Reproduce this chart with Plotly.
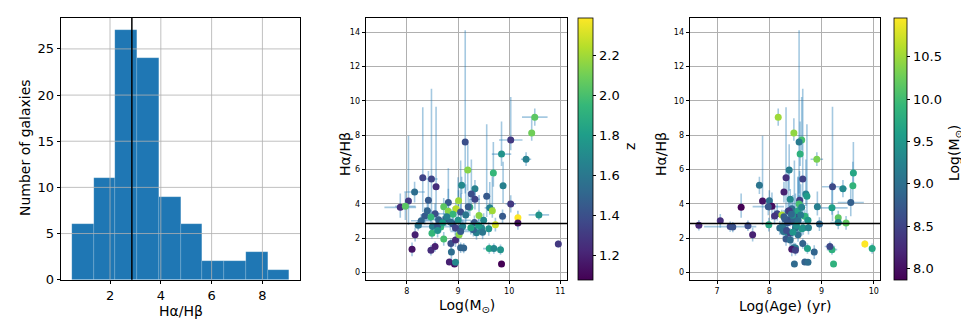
import numpy as np
import plotly.graph_objects as go

# ---------------- data ----------------
hist_edges = [0.50, 1.356, 2.212, 3.068, 3.924, 4.78, 5.636, 6.492, 7.348, 8.204, 9.06]
hist_counts = [6, 11, 27, 24, 9, 6, 2, 2, 3, 1]
case_b = 2.86

mass = [10.50, 10.44, 10.03, 9.14, 9.85, 10.33, 9.19, 9.69, 8.31, 8.48,
        9.07, 9.88, 8.57, 9.33, 8.15, 9.26, 9.56, 8.42, 9.33, 8.03,
        8.81, 10.03, 9.01, 7.87, 7.97, 8.72, 8.81, 8.96, 9.05, 8.55,
        8.35, 8.47, 8.62, 8.76, 9.62, 9.67, 9.23, 9.20, 9.41, 9.87,
        10.58, 10.17, 10.17, 9.73, 9.60, 9.46, 9.36, 9.30, 9.06, 10.96,
        9.61, 9.70, 9.83, 9.85, 9.05, 9.11, 8.10, 8.47, 8.55, 8.86,
        8.87, 8.83, 8.93, 8.95, 8.16, 8.49, 8.72, 8.95, 9.02, 8.22,
        8.28, 8.50, 8.66, 8.90, 8.95, 9.09, 8.60, 9.32, 8.85, 9.00,
        9.15, 8.70, 9.25, 9.05, 8.40, 8.90, 9.40, 8.60, 9.50, 8.78, 9.48]
mass_err = [0.25, 0.06, 0.23, 0.05, 0.19, 0.10, 0.05, 0.05, 0.05, 0.12,
            0.05, 0.05, 0.05, 0.05, 0.20, 0.05, 0.05, 0.05, 0.10, 0.05,
            0.05, 0.10, 0.05, 0.31, 0.20, 0.05, 0.05, 0.05, 0.15, 0.20,
            0.05, 0.05, 0.25, 0.05, 0.10, 0.05, 0.05, 0.05, 0.05, 0.05,
            0.20, 0.05, 0.05, 0.05, 0.05, 0.05, 0.05, 0.20, 0.05, 0.05,
            0.12, 0.10, 0.05, 0.05, 0.05, 0.05, 0.05, 0.05, 0.05, 0.05,
            0.05, 0.05, 0.05, 0.05, 0.05, 0.05, 0.05, 0.05, 0.05, 0.05,
            0.20, 0.35, 0.05, 0.05, 0.05, 0.05, 0.05, 0.05, 0.30, 0.25,
            0.05, 0.05, 0.05, 0.20, 0.05, 0.05, 0.05, 0.05, 0.05, 0.05, 0.05]
redshift = [2.05, 2.10, 1.30, 1.40, 1.75, 1.65, 2.15, 1.95, 1.35, 1.35,
            1.70, 1.65, 1.25, 1.65, 1.55, 1.40, 1.45, 1.45, 1.35, 1.30,
            1.45, 1.30, 2.20, 1.25, 2.05, 2.05, 2.15, 2.25, 1.40, 1.40,
            1.45, 1.95, 1.50, 1.45, 1.65, 2.20, 1.90, 1.45, 2.15, 1.45,
            1.75, 2.39, 1.15, 2.30, 1.75, 1.70, 1.65, 1.50, 1.55, 1.30,
            1.85, 1.70, 1.75, 1.08, 1.50, 1.50, 1.15, 1.25, 1.20, 1.40,
            1.55, 1.20, 1.15, 1.70, 1.20, 1.95, 2.00, 1.25, 2.15, 1.60,
            1.50, 1.65, 1.95, 1.40, 1.35, 1.65, 1.45, 1.45, 1.55, 1.75,
            1.60, 1.80, 1.85, 1.45, 1.50, 1.95, 1.80, 1.75, 1.70, 1.65, 1.60]
log_age = [8.17, 8.47, 8.62, 8.57, 8.59, 8.91, 8.38, 9.61, 8.32, 8.64,
           7.81, 9.60, 9.21, 9.41, 8.28, 8.70, 8.72, 8.58, 8.40, 7.87,
           9.56, 8.57, 8.00, 7.46, 8.05, 7.98, 8.36, 8.43, 8.48, 8.15,
           8.10, 8.52, 8.40, 8.30, 9.20, 8.55, 8.62, 8.92, 8.45, 8.68,
           8.24, 9.32, 9.47, 7.99, 8.62, 8.65, 8.35, 8.30, 8.50, 9.83,
           8.73, 9.97, 9.20, 9.23, 8.47, 8.50, 8.43, 8.50, 9.16, 8.64,
           8.86, 8.68, 8.48, 8.74, 7.68, 8.40, 8.32, 8.40, 8.55, 6.65,
           7.06, 7.25, 7.30, 8.96, 8.20, 8.25, 7.59, 9.32, 8.45, 8.55,
           8.60, 8.35, 8.75, 8.27, 8.38, 8.42, 8.52, 8.33, 8.74, 8.28, 8.45]
age_err = [0.05, 0.05, 0.05, 0.03, 0.04, 0.12, 0.04, 0.06, 0.04, 0.04,
           0.04, 0.04, 0.20, 0.08, 0.05, 0.04, 0.04, 0.04, 0.04, 0.04,
           0.25, 0.05, 0.05, 0.04, 0.05, 0.30, 0.05, 0.05, 0.05, 0.05,
           0.05, 0.05, 0.05, 0.05, 0.30, 0.05, 0.05, 0.06, 0.05, 0.05,
           0.05, 0.05, 0.05, 0.05, 0.05, 0.05, 0.05, 0.05, 0.05, 0.05,
           0.05, 0.05, 0.10, 0.05, 0.05, 0.05, 0.05, 0.05, 0.10, 0.05,
           0.05, 0.05, 0.05, 0.05, 0.05, 0.05, 0.05, 0.05, 0.05, 0.05,
           0.05, 0.50, 0.05, 0.05, 0.05, 0.05, 0.05, 0.15, 0.10, 0.05,
           0.05, 0.05, 0.05, 0.05, 0.05, 0.05, 0.05, 0.05, 0.05, 0.05, 0.05]
ratio = [9.05, 8.13, 7.72, 7.60, 6.90, 6.60, 5.97, 5.80, 5.53, 5.45,
         5.08, 5.06, 5.00, 4.89, 4.69, 4.58, 4.44, 4.22, 4.27, 4.17,
         4.08, 4.00, 4.19, 3.80, 3.86, 3.84, 3.57, 3.72, 3.53, 3.43,
         3.30, 3.24, 3.08, 3.12, 3.77, 3.60, 3.80, 3.83, 3.32, 3.28,
         3.36, 3.20, 2.89, 2.79, 2.55, 2.60, 2.32, 2.50, 2.60, 1.67,
         1.40, 1.40, 1.34, 0.50, 1.45, 1.43, 1.36, 1.30, 1.52, 1.69,
         1.20, 0.62, 0.50, 0.60, 2.21, 2.29, 1.96, 1.90, 2.20, 2.76,
         3.02, 2.68, 2.65, 2.83, 2.60, 2.70, 2.73, 2.92, 2.95, 3.05,
         3.35, 2.90, 2.62, 2.40, 3.60, 3.40, 2.75, 2.45, 3.05, 3.25, 2.35]
ratio_err_lo = [0.5, 0.45, 0.6, 3.0, 0.7, 0.4, 1.2, 0.8, 2.0, 2.0,
                0.5, 1.0, 2.0, 0.5, 0.6, 0.7, 1.2, 1.0, 0.6, 1.4,
                0.8, 0.5, 0.6, 0.6, 0.8, 0.5, 0.5, 0.5, 0.5, 0.4,
                0.5, 0.4, 0.4, 0.4, 0.4, 0.4, 0.5, 0.5, 0.4, 0.4,
                0.3, 0.4, 0.4, 0.4, 0.4, 0.4, 0.4, 0.4, 0.4, 0.2,
                0.3, 0.3, 0.3, 0.1, 0.3, 0.3, 0.4, 0.3, 0.3, 0.3,
                0.4, 0.1, 0.1, 0.1, 0.4, 0.3, 0.4, 0.4, 0.4, 0.3,
                0.4, 0.3, 0.3, 0.4, 0.4, 0.4, 0.3, 0.4, 0.5, 0.5,
                0.5, 0.4, 0.4, 0.4, 0.5, 0.4, 0.4, 0.4, 0.4, 0.4, 0.4]
ratio_err_hi = [0.5, 0.85, 2.5, 6.5, 1.9, 0.4, 1.5, 1.8, 4.1, 5.25,
                0.5, 1.4, 4.65, 0.5, 0.6, 2.0, 4.2, 1.7, 0.6, 3.8,
                0.8, 0.5, 0.6, 0.8, 0.8, 0.5, 2.5, 0.5, 3.0, 0.6,
                0.5, 0.4, 0.4, 0.4, 1.5, 2.0, 0.5, 0.9, 1.2, 0.4,
                0.3, 0.4, 0.4, 0.4, 0.4, 0.4, 0.4, 0.4, 2.0, 0.2,
                0.3, 0.3, 0.3, 0.1, 0.3, 0.3, 0.4, 0.3, 0.3, 0.3,
                0.4, 0.1, 0.1, 0.1, 0.4, 0.3, 0.4, 0.4, 0.4, 0.3,
                0.4, 0.3, 0.3, 0.4, 0.4, 0.4, 0.3, 0.4, 0.5, 2.5,
                1.8, 0.4, 0.4, 0.4, 0.5, 0.4, 0.4, 0.4, 0.4, 0.4, 0.4]

z_ticks = [1.2, 1.4, 1.6, 1.8, 2.0, 2.2]
m_ticks = [8.0, 8.5, 9.0, 9.5, 10.0, 10.5]

# ---------------- figure geometry (pixels) ----------------
W, H = 969, 323
def px(x):
    return x / W
def py(y):
    return 1 - y / H

FONT = "DejaVu Sans"
BLUE = "#1f77b4"
ERR = "rgba(31,119,180,0.4)"

edges = np.array(hist_edges)
centers = (edges[:-1] + edges[1:]) / 2
widths = edges[1:] - edges[:-1]

fig = go.Figure()
fig.add_trace(go.Bar(x=centers, y=hist_counts, width=widths,
                     marker=dict(color=BLUE, line=dict(width=0.4, color="rgba(255,255,255,0.35)")),
                     xaxis="x", yaxis="y", showlegend=False))

def err_trace(x, xe, xa, ya):
    return go.Scatter(x=x, y=ratio, mode="markers",
                      marker=dict(size=7, opacity=0),
                      error_x=dict(type="data", array=xe, color=ERR, thickness=1.6, width=0),
                      error_y=dict(type="data", symmetric=False, array=ratio_err_hi,
                                   arrayminus=ratio_err_lo, color=ERR, thickness=1.6, width=0),
                      xaxis=xa, yaxis=ya, showlegend=False, hoverinfo="skip")

def cbar(x0, thick, ticks):
    return dict(x=px(x0), xanchor="left", xpad=0, ypad=0,
                y=py(271.7), yanchor="bottom", len=(271.7 - 10) / H, lenmode="fraction",
                thickness=thick, outlinewidth=0.8, outlinecolor="black",
                tickvals=ticks, ticktext=[f"{t:.1f}" for t in ticks],
                ticks="outside", ticklen=3.5, tickwidth=0.8, tickcolor="black",
                tickfont=dict(family=FONT, size=13, color="black"))

fig.add_trace(err_trace(mass, mass_err, "x2", "y2"))
fig.add_trace(go.Scatter(x=mass, y=ratio, mode="markers",
                         marker=dict(size=7, color=redshift, colorscale="Viridis",
                                     showscale=True, colorbar=cbar(570, 15, z_ticks)),
                         xaxis="x2", yaxis="y2", showlegend=False))
fig.add_trace(err_trace(log_age, age_err, "x3", "y3"))
fig.add_trace(go.Scatter(x=log_age, y=ratio, mode="markers",
                         marker=dict(size=7, color=mass, colorscale="Viridis",
                                     showscale=True, colorbar=cbar(886, 13, m_ticks)),
                         xaxis="x3", yaxis="y3", showlegend=False))

ydom = [py(271.7), py(10)]
def axis(dom, rng, ticks, fs, grid=True, anchor=None):
    d = dict(domain=dom, range=rng, tickvals=ticks, showline=True, mirror=True,
             linecolor="black", linewidth=0.8, ticks="outside", ticklen=3.5, tickwidth=0.8,
             tickcolor="black", showgrid=grid, gridcolor="#b0b0b0", gridwidth=0.8,
             zeroline=False, tickfont=dict(family=FONT, size=fs, color="black"),
             automargin=False, fixedrange=True)
    if anchor:
        d["anchor"] = anchor
    return d

fig.update_layout(
    width=W, height=H, margin=dict(l=0, r=0, t=0, b=0),
    paper_bgcolor="white", plot_bgcolor="white", bargap=0,
    xaxis=axis([px(53), px(292)], [0.07, 9.48], [2, 4, 6, 8], 13, grid=False, anchor="y"),
    yaxis=axis(ydom, [0, 28.35], [0, 5, 10, 15, 20, 25], 13, grid=False, anchor="x"),
    xaxis2=axis([px(358), px(559)], [7.2, 11.13], [8, 9, 10, 11], 8, anchor="y2"),
    yaxis2=axis(ydom, [-0.41, 14.82], [0, 2, 4, 6, 8, 10, 12, 14], 8, anchor="x2"),
    xaxis3=axis([px(682), px(872)], [6.48, 10.12], [7, 8, 9, 10], 8, anchor="y3"),
    yaxis3=axis(ydom, [-0.41, 14.82], [0, 2, 4, 6, 8, 10, 12, 14], 8, anchor="x3"),
)

shapes = []
# histogram gridlines drawn above the bars (as in the reference)
for v in [2, 4, 6, 8]:
    shapes.append(dict(type="line", xref="x", yref="y domain", x0=v, x1=v, y0=0, y1=1,
                       line=dict(color="#b0b0b0", width=0.8), layer="above"))
for v in [5, 10, 15, 20, 25]:
    shapes.append(dict(type="line", xref="x domain", yref="y", x0=0, x1=1, y0=v, y1=v,
                       line=dict(color="#b0b0b0", width=0.8), layer="above"))
shapes.append(dict(type="line", xref="x", yref="y domain", x0=case_b, x1=case_b, y0=0, y1=1,
                   line=dict(color="black", width=1.5), layer="above"))
for xa, ya in [("x2", "y2"), ("x3", "y3")]:
    shapes.append(dict(type="line", xref=f"{xa} domain", yref=ya, x0=0, x1=1, y0=case_b, y1=case_b,
                       line=dict(color="black", width=1.5), layer="above"))
fig.update_layout(shapes=shapes)

def ann(text, x, y, size=14, angle=0):
    return dict(text=text, x=px(x), y=py(y), xref="paper", yref="paper", showarrow=False,
                textangle=angle, xanchor="center", yanchor="middle",
                font=dict(family=FONT, size=size, color="black"))

fig.update_layout(annotations=[
    ann("Hα/Hβ", 172.5, 303),
    ann("Number of galaxies", 17, 140, angle=-90),
    ann("Log(M<sub>⊙</sub>)", 459, 298),
    ann("Hα/Hβ", 337, 146, angle=-90),
    ann("z", 622, 139, angle=-90),
    ann("Log(Age) (yr)", 777, 298),
    ann("Hα/Hβ", 653, 146, angle=-90),
    ann("Log(M<sub>⊙</sub>)", 947, 145, angle=-90),
])

fig.write_html("out.html")
